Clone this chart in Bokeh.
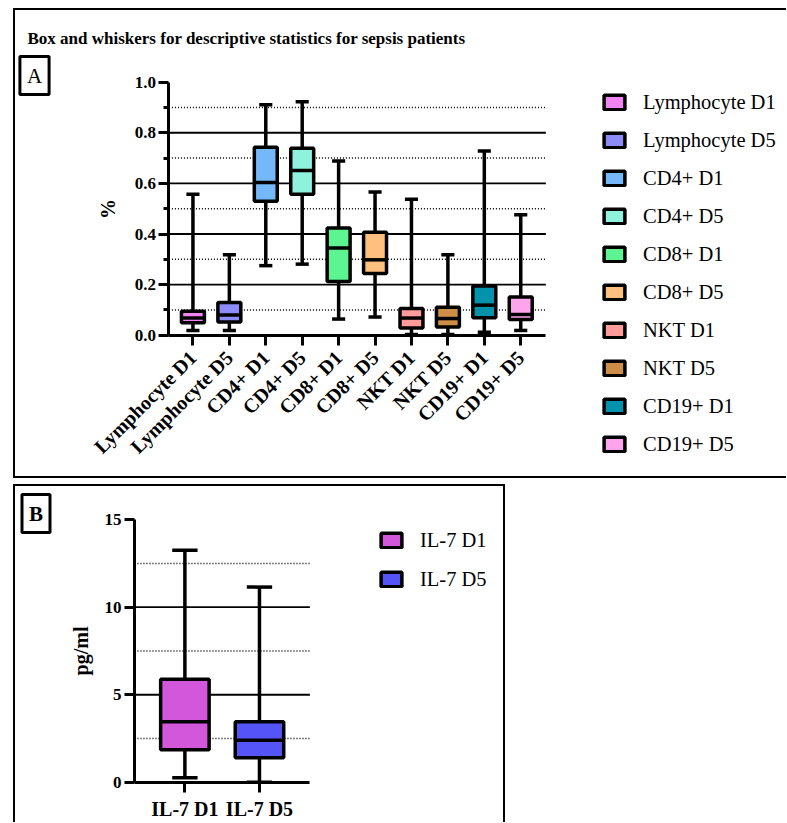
import math
from bokeh.plotting import figure
from bokeh.models import (Range1d, FixedTicker, Label, Legend, LegendItem,
                          NumeralTickFormatter, ColumnDataSource)
from bokeh.layouts import column
from bokeh.embed import file_html
from bokeh.resources import INLINE

TITLE = "Box and whiskers for descriptive statistics for sepsis patients"

# ---- Panel A data (fraction) ----
cells = ["Lymphocyte D1", "Lymphocyte D5", "CD4+ D1", "CD4+ D5", "CD8+ D1",
         "CD8+ D5", "NKT D1", "NKT D5", "CD19+ D1", "CD19+ D5"]
cells_min = [0.019, 0.019, 0.275, 0.281, 0.064, 0.072, 0.003, 0.003, 0.012, 0.019]
cells_q1 = [0.049, 0.052, 0.529, 0.557, 0.212, 0.244, 0.029, 0.033, 0.069, 0.062]
cells_med = [0.068, 0.080, 0.603, 0.651, 0.345, 0.298, 0.068, 0.066, 0.119, 0.082]
cells_q3 = [0.095, 0.129, 0.743, 0.739, 0.424, 0.407, 0.106, 0.111, 0.195, 0.151]
cells_max = [0.557, 0.318, 0.911, 0.922, 0.688, 0.566, 0.537, 0.318, 0.728, 0.476]
cell_ticks = [0.0, 0.2, 0.4, 0.6, 0.8, 1.0]

# ---- Panel B data (pg/ml) ----
il7 = ["IL-7 D1", "IL-7 D5"]
il7_min = [0.25, 0.0]
il7_q1 = [1.86, 1.40]
il7_med = [3.45, 2.40]
il7_q3 = [5.89, 3.45]
il7_max = [13.26, 11.15]
il7_ticks = [0, 5, 10, 15]

cell_colors = ["#F184F2", "#8C8CF8", "#74B8F7", "#8EF2DC", "#5DF592",
               "#FFBF7F", "#FF9B9B", "#CD8E47", "#0093AB", "#FCA5EC"]
il7_colors = ["#D257DA", "#5454F7"]

FONT = "Liberation Serif"
LW = 3.5


def full_ranges(cw, ch, box, xr, yr):
    """Ranges for a frame that fills the canvas, so that the data window
    xr x yr lands on the pixel box (left, right, top, bottom)."""
    l, r, t, b = box
    sx = (r - l) / (xr[1] - xr[0])
    sy = (b - t) / (yr[1] - yr[0])
    return (Range1d(xr[0] - l / sx, xr[1] + (cw - r) / sx),
            Range1d(yr[0] - (ch - b) / sy, yr[1] + t / sy))


def gridlines(p, xr, major, minor):
    n, m = len(major), len(minor)
    p.segment(x0=[xr[0]] * m, x1=[xr[1]] * m, y0=minor, y1=minor,
              line_color="black", line_width=1.5, line_dash="1 2")
    p.segment(x0=[xr[0]] * n, x1=[xr[1]] * n, y0=major, y1=major,
              line_color="black", line_width=1.8)


def boxplot(p, cats, lo, q1, med, q3, hi, colors, box_w, cap_w):
    xs = list(range(1, len(cats) + 1))
    src = ColumnDataSource(dict(
        x=xs, lo=lo, q1=q1, med=med, q3=q3, hi=hi, color=colors,
        bl=[x - box_w / 2 for x in xs], br=[x + box_w / 2 for x in xs],
        cl=[x - cap_w / 2 for x in xs], cr=[x + cap_w / 2 for x in xs]))
    kw = dict(source=src, line_color="black", line_width=LW)
    p.segment(x0="x", y0="lo", x1="x", y1="q1", **kw)
    p.segment(x0="x", y0="q3", x1="x", y1="hi", **kw)
    p.segment(x0="cl", y0="lo", x1="cr", y1="lo", **kw)
    p.segment(x0="cl", y0="hi", x1="cr", y1="hi", **kw)
    box = p.quad(left="bl", right="br", bottom="q1", top="q3",
                 fill_color="color", **kw)
    p.segment(x0="bl", y0="med", x1="br", y1="med", **kw)
    return xs, box


def make_fig(cw, ch, box, xr, yr):
    x_range, y_range = full_ranges(cw, ch, box, xr, yr)
    p = figure(width=cw, height=ch, min_border=0, x_range=x_range,
               y_range=y_range, output_backend="svg", toolbar_location=None)
    try:
        p.frame_align = False
    except Exception:
        pass
    p.title.visible = False
    p.outline_line_color = None
    p.background_fill_color = "white"
    p.border_fill_color = "white"
    p.xgrid.visible = False
    p.ygrid.visible = False
    for ax in (p.xaxis[0], p.yaxis[0]):
        ax.axis_line_width = 3
        ax.major_tick_line_width = 3
        ax.major_tick_out = 10
        ax.major_tick_in = 0
        ax.major_label_text_font = FONT
        ax.major_label_text_font_style = "bold"
        ax.major_label_text_color = "black"
        ax.axis_label_text_font = FONT
        ax.axis_label_text_font_style = "bold"
        ax.axis_label_text_color = "black"
    p.yaxis.fixed_location = xr[0]
    p.yaxis.bounds = yr
    p.xaxis.fixed_location = yr[0]
    p.xaxis.bounds = xr
    p.xaxis.minor_tick_line_color = None
    return p


def box_label(p, text, x, y, bold):
    p.add_layout(Label(x=x, y=y, x_units="screen", y_units="screen",
                       text=text, text_font=FONT, text_color="black",
                       text_font_style="bold" if bold else "normal",
                       text_font_size="21px", text_align="center",
                       text_baseline="middle", border_line_color="black",
                       border_line_width=3, padding=7,
                       background_fill_color="white"))


def legend(items, loc, spacing):
    return Legend(items=items, location=loc, glyph_width=26, glyph_height=18,
                  label_height=24, label_standoff=16, spacing=spacing,
                  padding=0, margin=0, border_line_color=None,
                  background_fill_alpha=0, label_text_font=FONT,
                  label_text_color="black", label_text_font_size="20.5px")


# ================= Panel A =================
AW, AH = 771, 466
XR_A, YR_A = (0.34, 10.69), (0.0, 1.0)
pA = make_fig(AW, AH, (153, 529, 71, 322), XR_A, YR_A)
minorA = [(a + b) / 2 for a, b in zip(cell_ticks[:-1], cell_ticks[1:])]
gridlines(pA, XR_A, cell_ticks[1:-1], minorA)
xsA, boxA = boxplot(pA, cells, cells_min, cells_q1, cells_med, cells_q3,
                    cells_max, cell_colors, 0.63, 0.36)
pA.yaxis.ticker = FixedTicker(ticks=cell_ticks, minor_ticks=minorA)
pA.yaxis.formatter = NumeralTickFormatter(format="0.0")
pA.yaxis.minor_tick_out = 5
pA.yaxis.minor_tick_in = 0
pA.yaxis.minor_tick_line_width = 3
pA.yaxis.major_label_text_font_size = "17px"
pA.yaxis.major_label_standoff = 3
pA.yaxis.axis_label = "%"
pA.yaxis.axis_label_text_font_size = "20px"
pA.yaxis.axis_label_standoff = 12
pA.xaxis.ticker = FixedTicker(ticks=xsA, minor_ticks=[])
pA.xaxis.major_label_overrides = {x: c for x, c in zip(xsA, cells)}
pA.xaxis.major_label_orientation = math.pi / 4
pA.xaxis.major_label_text_font_size = "20px"
pA.xaxis.major_label_standoff = 9

pA.add_layout(legend([LegendItem(label=c, renderers=[boxA], index=i)
                      for i, c in enumerate(cells)], (586, 24), 14))
pA.add_layout(Label(x=12, y=442, x_units="screen", y_units="screen",
                    text=TITLE, text_font=FONT, text_font_style="bold",
                    text_color="black", text_font_size="17px",
                    text_baseline="alphabetic"))
box_label(pA, "A", 19, 405, False)
pA.styles = {"box-sizing": "content-box",
             "border-left": "2px solid black", "border-top": "2px solid black",
             "border-bottom": "2px solid black"}
pA.margin = (8, 0, 0, 13)

# ================= Panel B =================
BW, BH = 488, 336
XR_B, YR_B = (0.324, 2.676), (0, 15)
pB = make_fig(BW, BH, (118, 292, 33, 294), XR_B, YR_B)
minorB = [(a + b) / 2 for a, b in zip(il7_ticks[:-1], il7_ticks[1:])]
gridlines(pB, XR_B, il7_ticks[1:-1], minorB)
xsB, boxB = boxplot(pB, il7, il7_min, il7_q1, il7_med, il7_q3, il7_max,
                    il7_colors, 0.65, 0.34)
pB.yaxis.ticker = FixedTicker(ticks=il7_ticks, minor_ticks=[])
pB.yaxis.minor_tick_line_color = None
pB.yaxis.major_label_text_font_size = "17px"
pB.yaxis.major_label_standoff = 3
pB.yaxis.axis_label = "pg/ml"
pB.yaxis.axis_label_text_font_size = "20px"
pB.yaxis.axis_label_standoff = 10
pB.xaxis.ticker = FixedTicker(ticks=xsB, minor_ticks=[])
pB.xaxis.major_label_overrides = {x: c for x, c in zip(xsB, il7)}
pB.xaxis.major_label_text_font_size = "20px"
pB.xaxis.major_label_standoff = 6

pB.add_layout(legend([LegendItem(label=c, renderers=[boxB], index=i)
                      for i, c in enumerate(il7)], (363, 233), 15))
box_label(pB, "B", 20.5, 311, True)
pB.styles = {"box-sizing": "content-box",
             "border-left": "2px solid black", "border-top": "2px solid black",
             "border-right": "2px solid black"}
pB.margin = (6, 0, 0, 13)

layout = column(pA, pB)
open("out.html", "w").write(file_html(layout, INLINE))
